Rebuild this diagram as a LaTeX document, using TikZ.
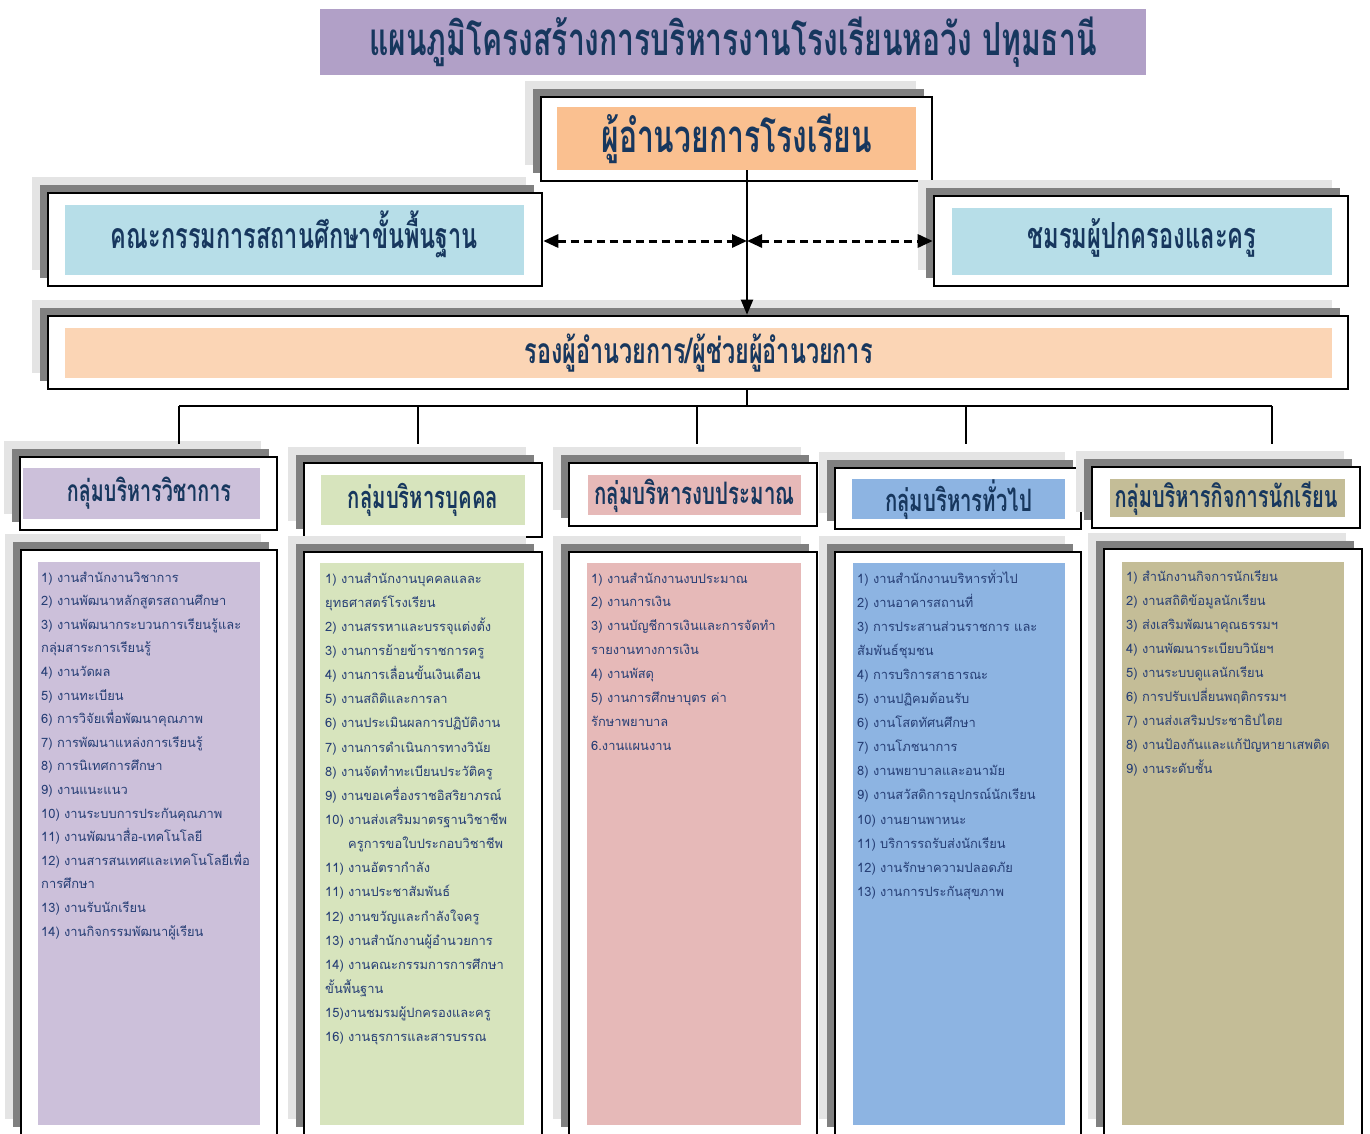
\documentclass[tikz,border=0pt]{standalone}
\usepackage{fontspec}
\usepackage{graphicx}
\usetikzlibrary{arrows.meta}
\newfontfamily\thai[Script=Thai]{Loma}
\newfontfamily\thaihead[Script=Thai,FakeStretch=0.66]{Loma}
\definecolor{lgray}{HTML}{E4E4E4}
\definecolor{dgray}{HTML}{808080}
\definecolor{hdblue}{HTML}{17375E}
\definecolor{lsblue}{HTML}{263E75}
\definecolor{ctitle}{HTML}{B1A0C7}
\definecolor{cdir}{HTML}{FAC090}
\definecolor{ccom}{HTML}{B7DEE8}
\definecolor{cvice}{HTML}{FBD5B5}
\definecolor{cga}{HTML}{CCC0DA}
\definecolor{cgb}{HTML}{D7E4BD}
\definecolor{cgc}{HTML}{E6B9B8}
\definecolor{cgd}{HTML}{8DB4E2}
\definecolor{cge}{HTML}{C4BD97}
\newcommand\shbox[5]{%
  \fill[lgray] ({#2-16},{#3-16}) rectangle ({#4-16},{#5-16});
  \fill[dgray] ({#2-8},{#3-8}) rectangle ({#4-8},{#5-8});
  \node[wbox,minimum width={#4-#2},minimum height={#5-#3}] (#1) at ({(#2+#4)/2},{(#3+#5)/2}) {};
}
\newcommand\colbox[6]{%
  \node[cbox,fill=#6,minimum width={#4-#2},minimum height={#5-#3}] (#1) at ({(#2+#4)/2},{(#3+#5)/2}) {};
}
\newcommand\hd[2]{\resizebox{#1pt}{!}{\thaihead\bfseries #2}}
\begin{document}
\begin{tikzpicture}[x=1pt,y=-1pt,
  wbox/.style={draw=black,line width=2.6pt,fill=white,inner sep=0pt},
  cbox/.style={inner sep=0pt,draw=none},
  hdtext/.style={text=hdblue,inner sep=0pt},
  lst/.style={text=lsblue,inner sep=0pt,anchor=base west},
  conn/.style={line width=2pt},
  dconn/.style={line width=3pt,dash pattern=on 8pt off 5pt,{Triangle[length=15pt,width=13pt]}-{Triangle[length=15pt,width=13pt]}},
]
\useasboundingbox (0,0) rectangle (1370,1133);

% title
\node[cbox,fill=ctitle,minimum width=826,minimum height=66,hdtext] (title) at (733,42)
  {\hd{727}{แผนภูมิโครงสร้างการบริหารงานโรงเรียนหอวัง ปทุมธานี}};

% director
\shbox{dir}{541}{97}{932}{181}
\node[cbox,fill=cdir,minimum width=359,minimum height=63,hdtext] (dirin) at (736.5,138.5)
  {\hd{270}{ผู้อำนวยการโรงเรียน}};

% committee
\shbox{com}{48}{193}{542}{286}
\colbox{comin}{65}{205}{524}{275}{ccom}
\node[hdtext] (comt) at (294.5,234) {\hd{367}{คณะกรรมการสถานศึกษาขั้นพื้นฐาน}};

% parents
\shbox{par}{934}{196}{1348}{286}
\colbox{parin}{952}{208}{1332}{275}{ccom}
\node[hdtext] (part) at (1142,237.5) {\hd{229}{ชมรมผู้ปกครองและครู}};

% vice
\shbox{vice}{48}{316}{1348}{389}
\node[cbox,fill=cvice,minimum width=1267,minimum height=50,hdtext] (vicein) at (698.5,353)
  {\hd{348}{รองผู้อำนวยการ/ผู้ช่วยผู้อำนวยการ}};

% group headers
\shbox{ga}{20}{457}{277}{530}
\colbox{gain}{23}{468}{260}{519}{cga}
\node[hdtext] (gat) at (149,493) {\hd{164}{กลุ่มบริหารวิชาการ}};
\shbox{gb}{304}{463}{542}{537}
\colbox{gbin}{321}{475}{525}{525}{cgb}
\node[hdtext] (gbt) at (423,500) {\hd{150}{กลุ่มบริหารบุคคล}};
\shbox{gc}{569}{463}{817}{526}
\colbox{gcin}{588}{475}{801}{515}{cgc}
\node[hdtext] (gct) at (694.5,496) {\hd{200}{กลุ่มบริหารงบประมาณ}};
\shbox{gd}{835}{468}{1081}{529}
\colbox{gdin}{852}{479}{1065}{519}{cgd}
\node[hdtext] (gdt) at (958.5,500) {\hd{147}{กลุ่มบริหารทั่วไป}};
\shbox{ge}{1092}{467}{1360}{528}
\colbox{gein}{1110}{479}{1345}{517}{cge}
\node[hdtext] (get) at (1226,499) {\hd{223}{กลุ่มบริหารกิจการนักเรียน}};

% content boxes
\shbox{ca}{21}{550}{277}{1135}
\colbox{cain}{38}{562}{260}{1125}{cga}
\shbox{cb}{304}{552}{542}{1135}
\colbox{cbin}{320}{563}{524}{1125}{cgb}
\shbox{cc}{569}{552}{817}{1135}
\colbox{ccin}{587}{563}{801}{1125}{cgc}
\shbox{cd}{835}{552}{1081}{1135}
\colbox{cdin}{853}{563}{1065}{1125}{cgd}
\shbox{ce}{1104}{549}{1362}{1135}
\colbox{cein}{1122}{562}{1344}{1125}{cge}

% lists
\node[lst] (la) at (41,582) {\parbox[t]{300pt}{\thai\fontsize{12.9}{23.6}\selectfont
1) งานสำนักงานวิชาการ\\
2) งานพัฒนาหลักสูตรสถานศึกษา\\
3) งานพัฒนากระบวนการเรียนรู้และ\\
กลุ่มสาระการเรียนรู้\\
4) งานวัดผล\\
5) งานทะเบียน\\
6) การวิจัยเพื่อพัฒนาคุณภาพ\\
7) การพัฒนาแหล่งการเรียนรู้\\
8) การนิเทศการศึกษา\\
9) งานแนะแนว\\
10) งานระบบการประกันคุณภาพ\\
11) งานพัฒนาสื่อ-เทคโนโลยี\\
12) งานสารสนเทศและเทคโนโลยีเพื่อ\\
การศึกษา\\
13) งานรับนักเรียน\\
14) งานกิจกรรมพัฒนาผู้เรียน}};

\node[lst] (lb) at (325,583) {\parbox[t]{300pt}{\thai\fontsize{12.9}{24.15}\selectfont
1) งานสำนักงานบุคคลแลละ\\
ยุทธศาสตร์โรงเรียน\\
2) งานสรรหาและบรรจุแต่งตั้ง\\
3) งานการย้ายข้าราชการครู\\
4) งานการเลื่อนขั้นเงินเดือน\\
5) งานสถิติและการลา\\
6) งานประเมินผลการปฏิบัติงาน\\
7) งานการดำเนินการทางวินัย\\
8) งานจัดทำทะเบียนประวัติครู\\
9) งานขอเครื่องราชอิสริยาภรณ์\\
10) งานส่งเสริมมาตรฐานวิชาชีพ\\
\hspace*{23pt}ครูการขอใบประกอบวิชาชีพ\\
11) งานอัตรากำลัง\\
11) งานประชาสัมพันธ์\\
12) งานขวัญและกำลังใจครู\\
13) งานสำนักงานผู้อำนวยการ\\
14) งานคณะกรรมการการศึกษา\\
ขั้นพื้นฐาน\\
15)งานชมรมผู้ปกครองและครู\\
16) งานธุรการและสารบรรณ}};

\node[lst] (lc) at (591,583) {\parbox[t]{300pt}{\thai\fontsize{12.9}{23.9}\selectfont
1) งานสำนักงานงบประมาณ\\
2) งานการเงิน\\
3) งานบัญชีการเงินและการจัดทำ\\
รายงานทางการเงิน\\
4) งานพัสดุ\\
5) งานการศึกษาบุตร ค่า\\
รักษาพยาบาล\\
6.งานแผนงาน}};

\node[lst] (ld) at (857,583) {\parbox[t]{300pt}{\thai\fontsize{12.9}{24.1}\selectfont
1) งานสำนักงานบริหารทั่วไป\\
2) งานอาคารสถานที่\\
3) การประสานส่วนราชการ และ\\
สัมพันธ์ชุมชน\\
4) การบริการสาธารณะ\\
5) งานปฏิคมต้อนรับ\\
6) งานโสตทัศนศึกษา\\
7) งานโภชนาการ\\
8) งานพยาบาลและอนามัย\\
9) งานสวัสดิการอุปกรณ์นักเรียน\\
10) งานยานพาหนะ\\
11) บริการรถรับส่งนักเรียน\\
12) งานรักษาความปลอดภัย\\
13) งานการประกันสุขภาพ}};

\node[lst] (le) at (1126,581) {\parbox[t]{300pt}{\thai\fontsize{12.9}{24}\selectfont
1) สำนักงานกิจการนักเรียน\\
2) งานสถิติข้อมูลนักเรียน\\
3) ส่งเสริมพัฒนาคุณธรรมฯ\\
4) งานพัฒนาระเบียบวินัยฯ\\
5) งานระบบดูแลนักเรียน\\
6) การปรับเปลี่ยนพฤติกรรมฯ\\
7) งานส่งเสริมประชาธิปไตย\\
8) งานป้องกันและแก้ปัญหายาเสพติด\\
9) งานระดับชั้น}};

% connectors
\coordinate (mid) at (747,241);
\coordinate (bus) at (747,406);
\draw[conn,-{Triangle[length=15pt,width=12pt]}] (dirin.south -| mid) -- (vice.north -| mid);
\draw[dconn] (com.east |- mid) -- (mid);
\draw[dconn] (mid) -- (par.west |- mid);
\draw[conn] (vice.south -| bus) -- (bus);
\coordinate (da) at (179,444);
\coordinate (db) at (418,444);
\coordinate (dc) at (697,444);
\coordinate (dd) at (966,444);
\coordinate (de) at (1272,444);
\draw[line width=2.6pt] (da |- bus) -- (de |- bus);
\foreach \d in {da,db,dc,dd,de} \draw[conn] (\d |- bus) -- (\d);
\end{tikzpicture}
\end{document}
